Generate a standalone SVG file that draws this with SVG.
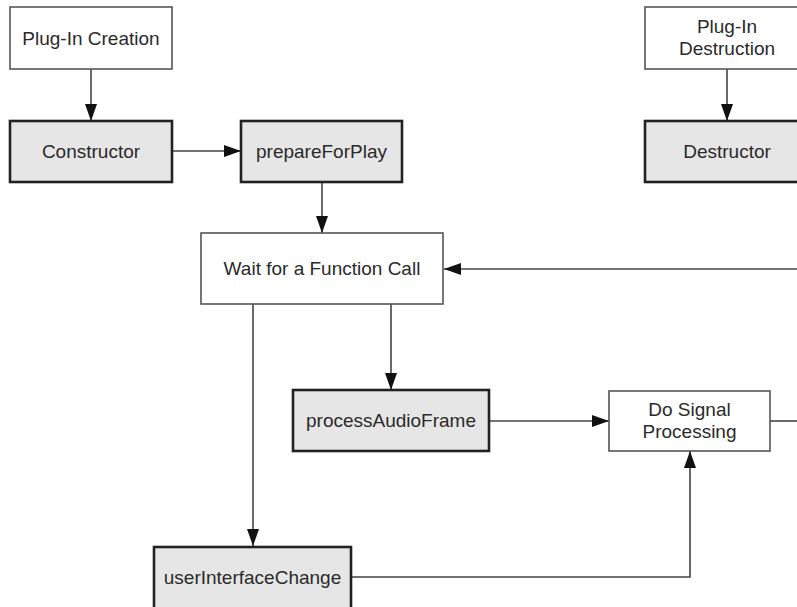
<svg xmlns="http://www.w3.org/2000/svg" width="797" height="607" viewBox="0 0 797 607">
  <style>
    .plain { fill: #ffffff; stroke: #555555; stroke-width: 1.6; }
    .call { fill: #e6e6e6; stroke: #222222; stroke-width: 2.6; }
    .label { font-family: "Liberation Sans", Arial, sans-serif; font-size: 19px; fill: #2a2a2a; text-anchor: middle; }
    .wire { fill: none; stroke: #444444; stroke-width: 1.6; }
  </style>
  <defs>
    <marker id="arrow" viewBox="0 0 17 12" refX="17" refY="6" markerWidth="17" markerHeight="12" markerUnits="userSpaceOnUse" orient="auto">
      <path d="M0,0 L17,6 L0,12 z" fill="#111111"/>
    </marker>
  </defs>
  <rect width="797" height="607" fill="#ffffff"/>

  <!-- connectors -->
  <g id="connectors">
    <path class="wire" d="M91,69 V121" marker-end="url(#arrow)"/>
    <path class="wire" d="M172,151 H241" marker-end="url(#arrow)"/>
    <path class="wire" d="M322,182 V233" marker-end="url(#arrow)"/>
    <path class="wire" d="M727,69 V121" marker-end="url(#arrow)"/>
    <path class="wire" d="M800,269 H444" marker-end="url(#arrow)"/>
    <path class="wire" d="M391,304 V390" marker-end="url(#arrow)"/>
    <path class="wire" d="M253,304 V546" marker-end="url(#arrow)"/>
    <path class="wire" d="M489,421 H609" marker-end="url(#arrow)"/>
    <path class="wire" d="M770,421 H800"/>
    <path class="wire" d="M351,577 H690 V451" marker-end="url(#arrow)"/>
  </g>

  <g id="plugin-creation">
    <rect class="plain" x="10" y="7" width="162" height="62"/>
    <text class="label" x="91" y="44.5">Plug-In Creation</text>
  </g>
  <g id="constructor">
    <rect class="call" x="10" y="121" width="162" height="61"/>
    <text class="label" x="91" y="158">Constructor</text>
  </g>
  <g id="prepare-for-play">
    <rect class="call" x="241" y="121" width="161" height="61"/>
    <text class="label" x="321.5" y="158">prepareForPlay</text>
  </g>
  <g id="plugin-destruction">
    <rect class="plain" x="645" y="7" width="164" height="62"/>
    <text class="label" x="727" y="33">Plug-In</text>
    <text class="label" x="727" y="55">Destruction</text>
  </g>
  <g id="destructor">
    <rect class="call" x="645" y="121" width="164" height="61"/>
    <text class="label" x="727" y="158">Destructor</text>
  </g>
  <g id="wait-for-call">
    <rect class="plain" x="201" y="233" width="242" height="71"/>
    <text class="label" x="322" y="275">Wait for a Function Call</text>
  </g>
  <g id="process-audio-frame">
    <rect class="call" x="293" y="390" width="196" height="61"/>
    <text class="label" x="391" y="427">processAudioFrame</text>
  </g>
  <g id="do-signal-processing">
    <rect class="plain" x="609" y="391" width="161" height="60"/>
    <text class="label" x="689.5" y="416">Do Signal</text>
    <text class="label" x="689.5" y="438">Processing</text>
  </g>
  <g id="user-interface-change">
    <rect class="call" x="154" y="547" width="197" height="62"/>
    <text class="label" x="252.5" y="583.5">userInterfaceChange</text>
  </g>
</svg>
